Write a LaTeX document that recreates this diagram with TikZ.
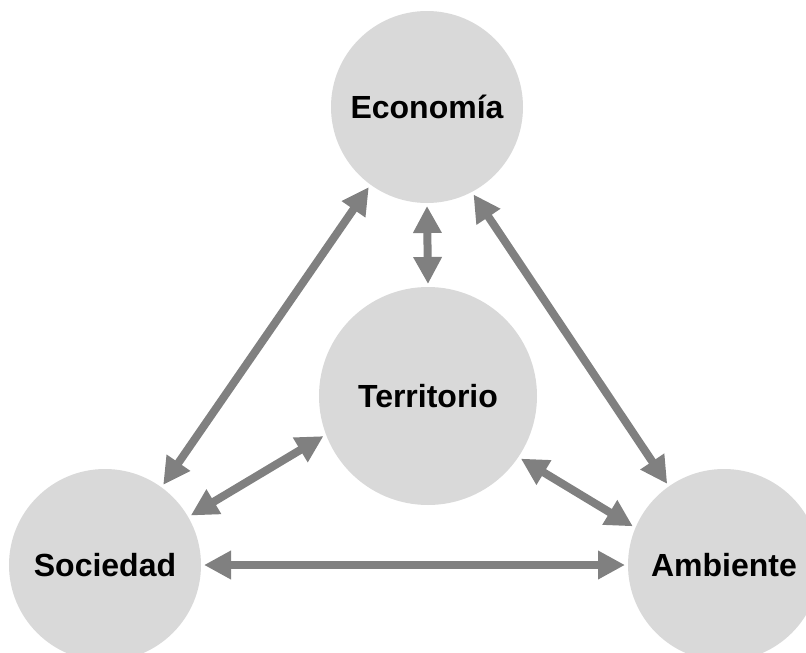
\documentclass[tikz,border=0pt]{standalone}
\usepackage{fontspec}
\setmainfont{Liberation Sans}
\usepackage{tikz}
\usetikzlibrary{arrows.meta}
\definecolor{circlegray}{RGB}{217,217,217}
\definecolor{arrowgray}{RGB}{128,128,128}

\begin{document}
\begin{tikzpicture}[x=1pt, y=-1pt,
	theme/.style={circle, fill=circlegray, minimum size=192pt, inner sep=0pt, outer sep=3pt, font=\fontsize{32}{32}\selectfont\bfseries},
	link/.style={draw=arrowgray, line width=8pt, {Triangle[length=27pt,width=27pt]}-{Triangle[length=27pt,width=27pt]}}]
	\clip (0,0) rectangle (806,653);
	\useasboundingbox (0,0) rectangle (806,653);
	\node[theme] (eco) at (427,107) {Economía};
	\node[theme, minimum size=218pt] (ter) at (428,396) {Territorio};
	\node[theme] (soc) at (105,565) {Sociedad};
	\node[theme] (amb) at (724,565) {Ambiente};
	\draw[link] (soc.54) -- (eco.234);
	\draw[link] (eco.298) -- (amb.125);
	\draw[link] (eco.south) -- (ter.north);
	\draw[link] (soc.30) -- (ter.201);
	\draw[link] (ter.-34) -- (amb.157);
	\draw[link] (soc.east) -- (amb.west);
\end{tikzpicture}
\end{document}
